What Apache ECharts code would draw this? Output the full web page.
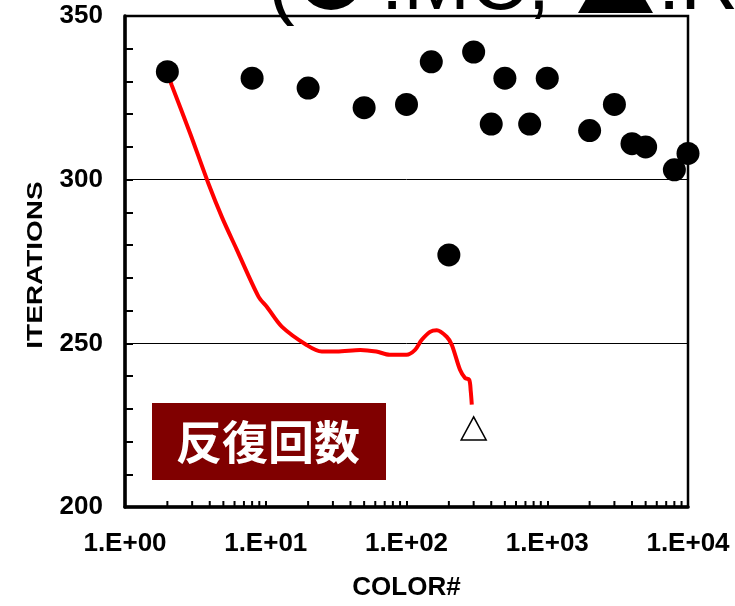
<!DOCTYPE html>
<html>
<head>
<meta charset="utf-8">
<script src="https://cdn.jsdelivr.net/npm/echarts@6/dist/echarts.min.js"></script>
<style>
  html, body { margin: 0; padding: 0; background: #fff; }
  #chart { width: 735px; height: 606px; }
</style>
</head>
<body>
<div id="chart"></div>
<script>
// MC results: color count vs iterations
const colorNum = [2, 8, 20, 50, 100, 150, 200, 300, 400, 500, 750, 1000, 2000, 3000, 4000, 5000, 8000, 10000];
const mcIter = [333, 331, 328, 322, 323, 336, 277, 339, 317, 331, 317, 331, 315, 323, 311, 310, 303, 308];

// hand drawn red curve
const curveX = [2, 2.15, 2.9, 3.9, 4.9, 6.2, 8.9, 10.2, 13, 19.5, 25, 32, 47, 61, 76, 100, 115, 128, 147, 164, 193, 210, 240, 261, 279, 286, 291];
const curveY = [332.5, 328.8, 314.2, 299, 288.4, 278.8, 264.2, 261.1, 255.1, 249.5, 247.5, 247.5, 248, 247.5, 246.5, 246.5, 248, 251, 253.5, 254, 252, 249.5, 241.9, 239.4, 238.9, 235.4, 231.3];

// RC point
const rcX = [300];
const rcY = [224];

const xTickLabels = ['1.E+00', '1.E+01', '1.E+02', '1.E+03', '1.E+04'];
const yTicks = [200, 250, 300, 350];

// minor ticks of log axis (2..9 per decade)
let xMinor = [];
for (let d = 1; d <= 1000; d *= 10) {
  for (let k = 2; k <= 9; k++) xMinor.push(k * d);
}

let chart = echarts.init(document.getElementById('chart'));
const lab = { color: '#000', fontSize: 26, fontWeight: 'bold', fontFamily: 'Liberation Sans' };
const titleFont = '80px "Liberation Sans"';

let option = {
  animation: false,
  grid: { left: 125, right: 47, top: 16, bottom: 95, show: true, borderColor: '#000', borderWidth: 2.5 },
  xAxis: {
    type: 'log', logBase: 10, min: 1, max: 10000,
    name: 'COLOR#', nameLocation: 'middle', nameGap: 68,
    nameTextStyle: lab,
    axisLine: { lineStyle: { color: '#000', width: 3.5 } },
    axisTick: { inside: true, length: 6, lineStyle: { color: '#000', width: 2 } },
    axisLabel: Object.assign({
      margin: 24, showMinLabel: true, showMaxLabel: true,
      formatter: v => xTickLabels[Math.round(Math.log10(v))]
    }, lab),
    splitLine: { show: false }
  },
  yAxis: {
    type: 'value', min: yTicks[0], max: yTicks[yTicks.length - 1], interval: 50,
    axisLine: { show: true, lineStyle: { color: '#000', width: 3.5 } },
    axisTick: { show: true, inside: true, length: 8, lineStyle: { color: '#000', width: 2 } },
    minorTick: { show: true, splitNumber: 5, length: 8, lineStyle: { color: '#000', width: 2 } },
    axisLabel: Object.assign({ margin: 22 }, lab),
    splitLine: { show: true, lineStyle: { color: '#000', width: 1 } }
  },
  graphic: [
    // title, mostly cut off at the top
    { type: 'text', x: 268, y: -13, style: { text: '(', font: titleFont, fill: '#000', verticalAlign: 'middle' } },
    { type: 'circle', shape: { cx: 331, cy: -22, r: 32 }, style: { fill: '#000' } },
    { type: 'text', x: 381, y: -13, style: { text: ':MC,', font: titleFont, fill: '#000', verticalAlign: 'middle' } },
    { type: 'polygon', shape: { points: [[578, 13], [653, 13], [615.5, -52]] }, style: { fill: '#000' } },
    { type: 'text', x: 658, y: -13, style: { text: ':RC)', font: titleFont, fill: '#000', verticalAlign: 'middle' } },
    {
      type: 'text', x: 36, y: 265, rotation: Math.PI / 2, scaleY: 0.8,
      style: { text: 'ITERATIONS', font: 'bold 28px "Liberation Sans"', fill: '#000', align: 'center', verticalAlign: 'middle' }
    },
    {
      type: 'rect', shape: { x: 152, y: 403, width: 234, height: 77 },
      style: { fill: '#800000' }
    },
    {
      type: 'text', x: 268, y: 442,
      style: { text: '反復回数', font: 'bold 46px "Noto Sans CJK JP"', fill: '#fff', align: 'center', verticalAlign: 'middle' }
    }
  ],
  series: [
    {
      type: 'custom', silent: true, z: 5,
      data: xMinor.map(v => [v]),
      renderItem: (params, api) => {
        let p = api.coord([api.value(0), 200]);
        return { type: 'line', shape: { x1: p[0], y1: p[1], x2: p[0], y2: p[1] - 6 }, style: { stroke: '#000', lineWidth: 2 } };
      }
    },
    {
      type: 'line', smooth: 0.3, showSymbol: false, symbol: 'none', z: 2,
      lineStyle: { color: '#ff0000', width: 4 },
      data: curveX.map((x, i) => [x, curveY[i]])
    },
    {
      type: 'scatter', symbol: 'circle', symbolSize: 23, z: 3,
      itemStyle: { color: '#000', opacity: 1 },
      data: colorNum.map((x, i) => [x, mcIter[i]])
    },
    {
      type: 'scatter', symbol: 'triangle', symbolSize: [25, 23], z: 3,
      itemStyle: { color: '#fff', borderColor: '#000', borderWidth: 1.5, opacity: 1 },
      data: rcX.map((x, i) => [x, rcY[i]])
    }
  ]
};
chart.setOption(option);
</script>
</body>
</html>
